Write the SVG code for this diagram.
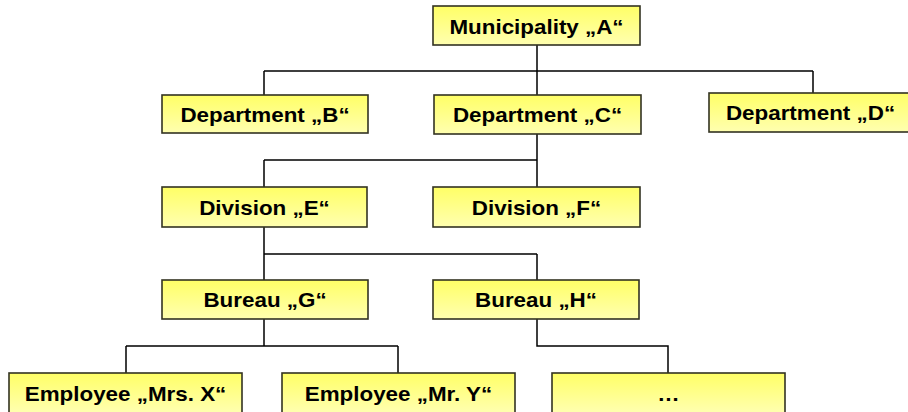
<svg xmlns="http://www.w3.org/2000/svg" width="908" height="412" viewBox="0 0 908 412">
<defs>
<linearGradient id="yg" x1="0" y1="0" x2="0" y2="1">
<stop offset="0" stop-color="#ffff66"/>
<stop offset="1" stop-color="#ffffb0"/>
</linearGradient>
</defs>
<style>
.box{fill:url(#yg);stroke:#333322;stroke-width:1.6}
.lbl{font-family:"Liberation Sans",Arial,sans-serif;font-weight:bold;font-size:20px;fill:#000;text-anchor:middle}
.con{fill:none;stroke:#000;stroke-width:1.5}
</style>
<rect width="908" height="412" fill="#fff"/>
<g id="connectors">
<path class="con" d="M537 45V71M264 71H813M264 71V95M537 71V95M813 71V93"/>
<path class="con" d="M537 134V160M264 160H537M264 160V187M537 160V187"/>
<path class="con" d="M264 227V254M264 254H537M264 254V280M537 254V280"/>
<path class="con" d="M264 319V346M126 346H398M126 346V373M398 346V373"/>
<path class="con" d="M537 319V346H668V373"/>
</g>
<g id="nodeA"><rect class="box" x="433" y="6" width="207" height="39"/><text class="lbl" transform="translate(536.5,34) scale(1.12,1)">Municipality „A“</text></g>
<g id="nodeB"><rect class="box" x="162" y="95" width="206" height="38"/><text class="lbl" transform="translate(265,122) scale(1.12,1)">Department „B“</text></g>
<g id="nodeC"><rect class="box" x="434" y="95" width="207" height="39"/><text class="lbl" transform="translate(537.5,122) scale(1.12,1)">Department „C“</text></g>
<g id="nodeD"><rect class="box" x="709" y="93" width="207" height="39"/><text class="lbl" transform="translate(810.5,120) scale(1.12,1)">Department „D“</text></g>
<g id="nodeE"><rect class="box" x="162" y="187" width="205" height="40"/><text class="lbl" transform="translate(264.5,215) scale(1.12,1)">Division „E“</text></g>
<g id="nodeF"><rect class="box" x="433" y="187" width="207" height="40"/><text class="lbl" transform="translate(536.5,215) scale(1.12,1)">Division „F“</text></g>
<g id="nodeG"><rect class="box" x="162" y="280" width="206" height="39"/><text class="lbl" transform="translate(265,307) scale(1.12,1)">Bureau „G“</text></g>
<g id="nodeH"><rect class="box" x="433" y="280" width="206" height="39"/><text class="lbl" transform="translate(536,307) scale(1.12,1)">Bureau „H“</text></g>
<g id="nodeX"><rect class="box" x="9" y="373" width="233" height="40"/><text class="lbl" transform="translate(125.5,401) scale(1.12,1)">Employee „Mrs. X“</text></g>
<g id="nodeY"><rect class="box" x="282" y="373" width="233" height="40"/><text class="lbl" transform="translate(398.5,401) scale(1.12,1)">Employee „Mr. Y“</text></g>
<g id="nodeMore"><rect class="box" x="552" y="373" width="233" height="40"/><text class="lbl" transform="translate(668.5,401) scale(1.12,1)">…</text></g>
</svg>
